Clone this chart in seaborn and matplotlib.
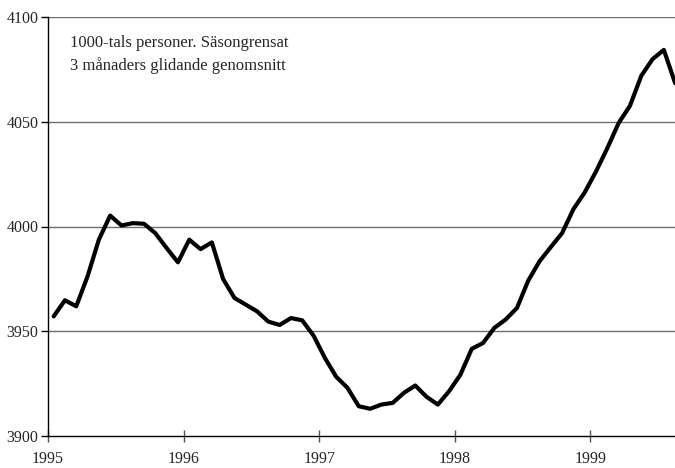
import numpy as np
import pandas as pd
import matplotlib
matplotlib.use("Agg")
import matplotlib.pyplot as plt
import seaborn as sns

# Monthly values, Jan 1995 - Aug 1999 (1000s of persons, seasonally adjusted, 3-month moving average)
years = [1995, 1996, 1997, 1998, 1999]
values = [
    3957.1, 3964.8, 3961.9, 3976.2, 3993.7, 4005.2, 4000.5, 4001.6, 4001.3, 3996.8, 3989.7, 3982.9,
    3993.7, 3989.2, 3992.4, 3974.9, 3965.9, 3962.7, 3959.5, 3954.6, 3953.0, 3956.3, 3955.2, 3947.9,
    3937.3, 3928.3, 3923.0, 3914.2, 3913.0, 3915.0, 3915.8, 3920.6, 3924.1, 3918.7, 3915.0, 3921.4,
    3929.3, 3941.6, 3944.4, 3951.6, 3955.6, 3961.1, 3974.2, 3983.4, 3990.2, 3996.9, 4008.3, 4016.3,
    4026.3, 4037.4, 4049.4, 4057.6, 4071.9, 4079.9, 4084.3, 4068.4,
]
annotation = ["1000-tals personer. Säsongrensat", "3 månaders glidande genomsnitt"]
y_ticks = [3900, 3950, 4000, 4050, 4100]

sns.set_style("white")
plt.rcParams["font.family"] = ["Liberation Serif", "DejaVu Serif"]

df = pd.DataFrame({"month": np.arange(len(values)) + 0.5, "value": values})

fig = plt.figure(figsize=(6.75, 4.68), dpi=100)
ax = fig.add_axes([48 / 675, 1 - 436 / 468, 1 - 48 / 675, (436 - 17) / 468])

for y in y_ticks[1:]:
    ax.axhline(y, color="#6e6e6e", lw=1.0, zorder=1)

sns.lineplot(data=df, x="month", y="value", ax=ax, color="black", lw=3.0, zorder=3)

ax.set_xlim(0, (675 - 48) / 11.3)
ax.set_ylim(3900, 4100)
ax.set_xticks([12 * i for i in range(len(years))])
ax.set_xticklabels([str(y) for y in years])
ax.set_yticks(y_ticks)
ax.set_yticklabels([str(y) for y in y_ticks])
ax.set_xlabel("")
ax.set_ylabel("")

for s in ["top", "right"]:
    ax.spines[s].set_visible(False)
for s in ["left", "bottom"]:
    ax.spines[s].set_visible(True)
    ax.spines[s].set_color("black")
    ax.spines[s].set_linewidth(1.0)

ax.tick_params(axis="y", direction="out", length=5, width=1, color="black", labelsize=11.5, pad=2)
ax.tick_params(axis="x", direction="inout", length=8, width=1, color="#555555", labelsize=11.5, pad=7)
ax.tick_params(left=True, bottom=True)

fig.text(70 / 675, 1 - 43 / 468, annotation[0], fontsize=12, va="center", ha="left")
fig.text(70 / 675, 1 - 66 / 468, annotation[1], fontsize=12, va="center", ha="left")

fig.savefig("out.png", dpi=100)
